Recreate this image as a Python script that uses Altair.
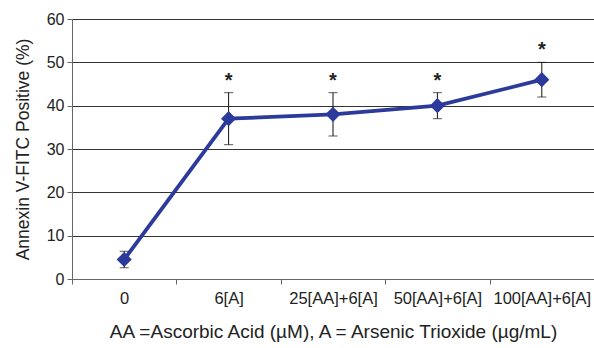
import altair as alt
import pandas as pd

categories = ["0", "6[A]", "25[AA]+6[A]", "50[AA]+6[A]", "100[AA]+6[A]"]
means = [4.5, 37, 38, 40, 46]
err_low = [2.6, 31, 33, 37, 42]
err_high = [6.4, 43, 43, 43, 50]
stars = ["", "*", "*", "*", "*"]

df = pd.DataFrame({"cat": categories, "mean": means, "lo": err_low, "hi": err_high, "star": stars})

FONT = "Liberation Sans"
blue = "#2B3A9B"

x = alt.X("cat:N", sort=categories, title="AA =Ascorbic Acid (µM), A = Arsenic Trioxide (µg/mL)",
          scale=alt.Scale(paddingInner=0, paddingOuter=0),
          axis=alt.Axis(labelAngle=0, tickBand="extent", tickSize=5, labelFontSize=16.5,
                        labelPadding=6, titleFontSize=19, titlePadding=16, titleFontWeight="normal",
                        labelColor="#222", titleColor="#222", domainColor="#666", tickColor="#666",
                        grid=False, labelLimit=200))
y = alt.Y("mean:Q", title="Annexin V-FITC Positive (%)",
          scale=alt.Scale(domain=[0, 60], nice=False),
          axis=alt.Axis(values=[0, 10, 20, 30, 40, 50, 60], tickSize=5, labelFontSize=16,
                        labelPadding=3, titleFontSize=17.5, titlePadding=14, titleFontWeight="normal",
                        labelColor="#222", titleColor="#222", domainColor="#666", tickColor="#666",
                        grid=True, gridColor="#333", gridWidth=1, gridOpacity=1))

base = alt.Chart(df)

line = base.mark_line(color=blue, strokeWidth=3.8).encode(x=x, y=y)
pts = base.mark_point(shape="diamond", filled=True, color=blue, size=230, opacity=1).encode(x=x, y=y)
rule = base.mark_rule(color="#111", strokeWidth=1).encode(x=x, y="lo:Q", y2="hi:Q")
cap_lo = base.mark_tick(color="#111", thickness=1, size=9).encode(x=x, y="lo:Q")
cap_hi = base.mark_tick(color="#111", thickness=1, size=9).encode(x=x, y="hi:Q")
star = base.mark_text(fontSize=20, font=FONT, fontWeight="bold", color="#222", dy=-12, baseline="middle").encode(
    x=x, y="hi:Q", text="star:N")

chart = alt.layer(line, rule, cap_lo, cap_hi, pts, star).properties(
    width=522, height=260,
    autosize=alt.AutoSizeParams(type="none"),
    padding={"left": 72, "top": 19, "right": 0, "bottom": 69},
).configure_view(stroke=None).configure(font=FONT).configure_axis(labelFont=FONT, titleFont=FONT)

chart.save("out.html", embed_options={"renderer": "svg", "actions": False})
